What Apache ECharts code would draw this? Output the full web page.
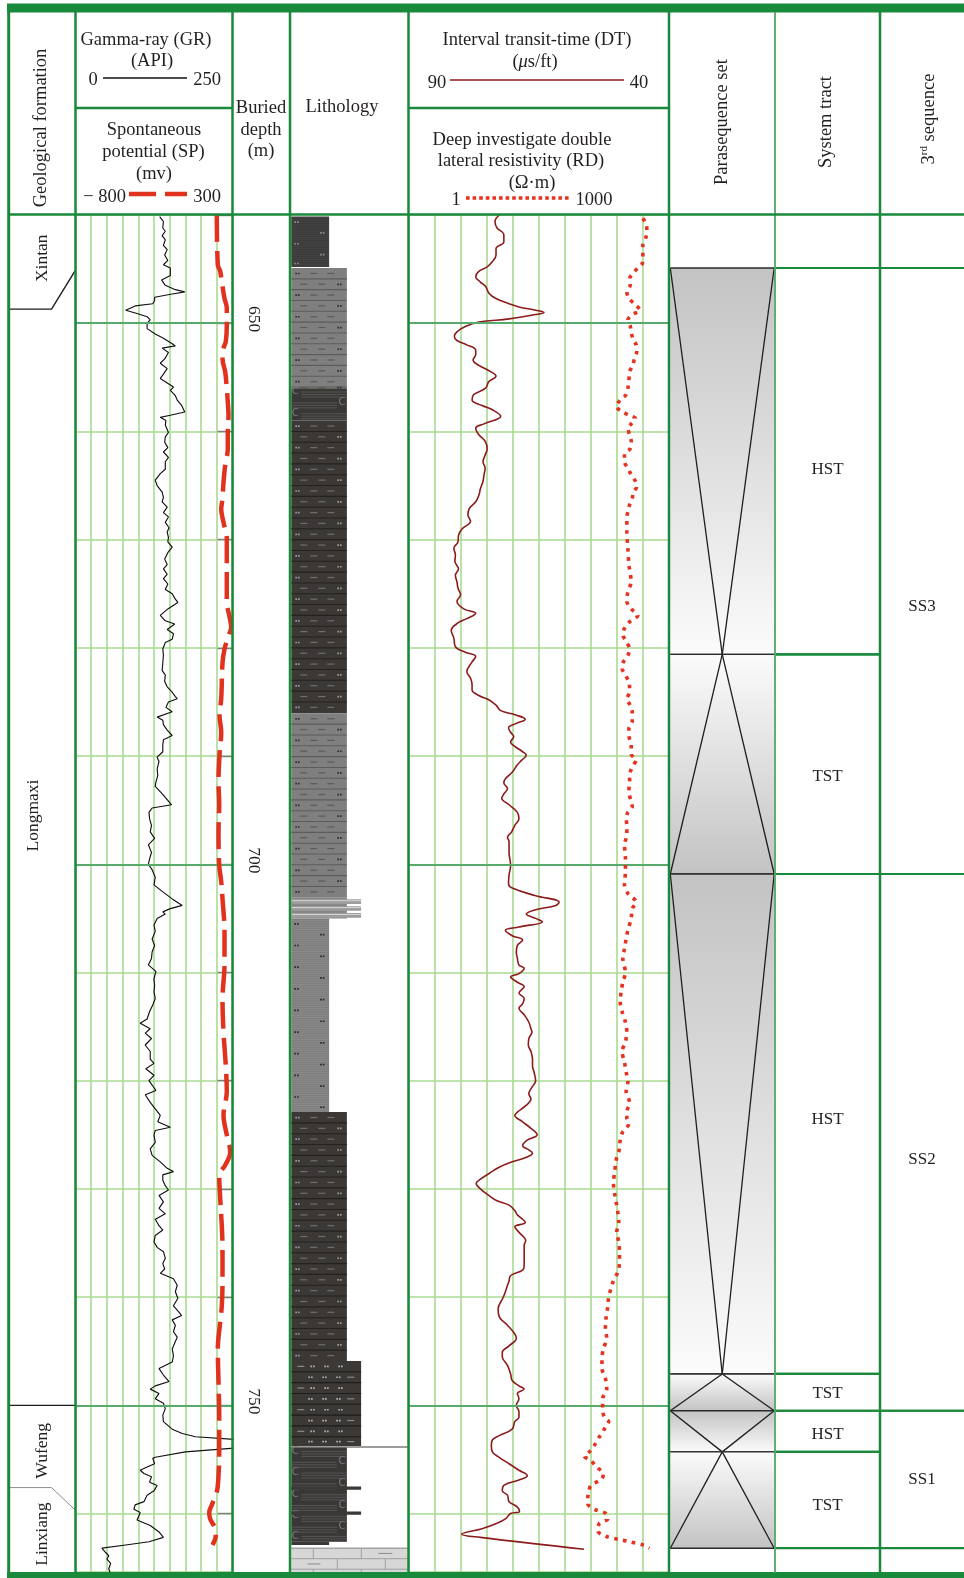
<!DOCTYPE html>
<html>
<head>
<meta charset="utf-8">
<script src="https://cdn.jsdelivr.net/npm/echarts@6/dist/echarts.min.js"></script>
<style>
html,body{margin:0;padding:0;background:#fff;}
#chart{width:964px;height:1578px;}
</style>
</head>
<body>
<div id="chart"></div>
<script>
// ---------------- well data (depth in m) ----------------
// Gamma-ray, API : [depth, value]
const grLog = [[640.15,134],[640.6,140],[641.2,139],[641.5,143],[641.9,138],[642.3,143],[642.8,140],[643.2,146],[643.7,142],[644.2,147],[644.6,140],[644.9,151],[645.6,151],[646.0,137],[646.5,143],[646.9,159],[647.1,174],[647.3,154],[647.6,126],[647.9,126],[648.2,123],[648.4,95],[648.8,80],[649.1,98],[649.4,114],[649.7,119],[650.0,114],[650.5,114],[651.0,127],[651.4,140],[651.9,154],[652.1,159],[652.3,138],[652.7,148],[653.3,142],[653.7,135],[654.2,146],[654.7,140],[655.1,135],[655.4,143],[655.9,156],[656.2,151],[656.7,159],[657.1,162],[657.6,169],[658.2,174],[658.5,151],[658.7,135],[659.0,144],[659.4,143],[660.1,148],[660.5,143],[661.0,142],[661.5,147],[661.9,140],[662.4,148],[662.8,143],[663.5,143],[663.9,135],[664.5,127],[665.0,130],[665.6,138],[666.1,140],[666.5,138],[667.0,146],[667.5,140],[667.9,148],[668.4,143],[668.9,149],[669.3,146],[669.8,148],[670.2,147],[670.7,154],[671.2,147],[671.8,142],[672.3,146],[672.7,140],[673.2,146],[673.6,140],[674.1,147],[674.6,143],[675.0,154],[675.5,159],[675.8,163],[676.4,147],[677.0,135],[677.5,143],[677.8,158],[678.3,146],[678.7,156],[679.2,154],[679.5,143],[680.1,139],[680.7,140],[681.4,139],
[682.1,138],[682.5,143],[683.1,142],[683.6,146],[684.1,154],[684.5,159],[684.7,162],[685.0,148],[685.5,144],[685.9,154],[686.4,130],[686.7,139],[687.1,140],[687.6,146],[688.1,154],[688.5,140],[689.0,139],[689.6,139],[690.1,130],[690.5,133],[691.2,130],[691.8,131],[692.4,128],[692.8,127],[693.6,140],[694.5,153],[694.8,122],[695.2,117],[695.8,118],[696.4,121],[697.0,119],[697.6,126],[698.2,116],[698.9,121],[699.5,118],[700.0,116],[700.5,122],[701.2,127],[701.9,125],[702.5,138],[703.2,154],[703.8,170],[704.1,151],[704.4,139],[704.6,143],[705.0,130],[705.6,125],[706.2,127],[706.9,122],[707.5,126],[708.1,122],[708.7,121],[709.3,116],[709.9,128],[710.6,125],[711.2,126],[711.8,125],[712.4,127],[713.0,123],[713.6,118],[714.3,114],[714.7,103],[715.2,119],[715.6,111],[716.1,121],[716.7,111],[717.3,119],[718.0,119],[718.4,125],[718.9,112],[719.5,125],[720.0,117],[720.4,122],[720.9,128],[721.3,111],[722.0,119],[722.6,127],
[723.2,135],[723.8,131],[724.3,151],[724.6,127],[725.0,125],[725.7,127],[726.3,119],[726.9,122],[727.5,135],[728.1,146],[728.4,156],[728.7,139],[729.2,139],[729.7,143],[730.1,148],[730.6,133],[731.2,140],[731.8,133],[732.3,143],[732.8,127],[733.4,133],[733.8,139],[734.3,127],[734.9,125],[735.4,130],[735.8,140],[736.4,143],[736.9,139],[737.4,142],[737.8,135],[738.3,156],[738.9,162],[739.5,159],[740.1,163],[740.8,156],[741.4,165],[741.7,169],[742.1,154],[742.6,159],[743.2,156],[743.7,162],[744.1,159],[744.8,154],[745.4,156],[746.0,154],[746.6,133],[747.2,140],[747.8,149],[748.2,127],[748.5,119],[748.9,133],[749.4,127],[749.8,140],[750.3,143],[750.9,139],[751.5,140],[752.2,154],[752.6,170],[752.9,191],[753.2,265],[753.9,265],[754.3,175],[754.8,127],[754.9,123],[755.4,126],[755.7,114],[756.0,103],[756.3,109],[756.6,121],[757.1,118],[757.4,130],[757.9,125],[758.3,114],[758.9,109],[759.2,95],[759.6,93],[759.9,103],[760.2,101],[760.6,98],[761.1,119],[761.7,133],[762.2,140],[762.6,117],[762.9,80],[763.2,42],[763.6,48],[763.9,53],[764.2,50],[764.6,56],[765.1,53],[765.6,56]];

// Spontaneous potential, mV : [depth, value]
const spLog = [[640.0,190],[644.6,197],[645.2,214],[646.2,225],[647.7,244],[648.6,260],[650.2,260],[651.7,253],[652.3,237],[653.3,230],[654.5,249],[656.0,260],[657.3,267],[658.5,272],[660.1,267],[661.6,267],[663.1,249],[664.7,237],[666.2,230],[667.2,221],[668.4,237],[669.9,260],[671.5,260],[674.0,260],[675.8,260],[677.0,277],[678.1,291],[678.9,272],[680.1,244],[681.4,230],[684.7,221],[686.2,209],[687.8,221],[689.9,209],[692.4,202],[694.5,207],[697.0,202],[700.1,207],[701.6,221],[703.2,230],[706.2,244],[709.3,244],[712.4,230],[715.5,237],[718.6,253],[721.0,260],[723.2,237],[725.0,260],[726.6,284],[727.8,249],[728.7,207],[730.9,214],[733.4,225],[735.5,230],[738.6,230],[740.8,225],[742.3,214],[744.8,197],[747.8,202],[750.9,207],[754.0,207],[756.5,202],[758.0,190],[759.2,155],[759.9,137],[760.5,144],[761.4,179],[762.0,183],[762.9,160]];

// Interval transit-time, us/ft : [depth, value]
const dtLog = [[640.0,72.6],[640.6,73.4],[641.2,73.0],[641.8,71.7],[642.5,71.7],[643.1,73.2],[643.7,73.2],[644.3,73.9],[644.8,74.9],[645.2,76.5],[645.7,77.1],[646.2,76.2],[646.6,75.2],[647.2,74.6],[647.7,73.3],[648.2,70.7],[648.5,68.8],[648.8,65.6],[649.0,64.0],[649.2,65.6],[649.6,70.7],[649.9,76.5],[650.3,79.1],[650.8,80.7],[651.2,81.2],[651.6,80.7],[652.0,78.8],[652.5,77.1],[652.9,77.1],[653.4,77.6],[653.9,76.5],[654.3,74.9],[654.9,73.2],[655.4,74.6],[656.0,75.2],[656.6,77.5],[657.1,77.8],[657.6,75.9],[658.0,73.9],[658.6,72.3],[659.3,75.5],[659.7,77.1],[660.3,76.5],[660.9,75.3],[661.6,74.9],[662.2,75.3],[662.8,75.7],[663.4,75.3],[664.0,75.5],[664.6,75.7],[665.3,76.2],[665.9,76.5],[666.5,77.1],[667.1,78.3],[667.7,78.6],[668.3,78.1],[669.0,79.7],[669.6,80.4],[670.2,80.5],[670.8,81.3],[671.4,81.0],[672.0,81.1],[672.7,80.4],[673.3,81.0],[673.9,80.7],[674.5,80.5],[675.1,80.0],[675.7,80.7],[676.4,79.4],[676.8,77.1],[677.3,78.8],[677.7,80.5],[678.4,81.8],[679.1,81.3],[679.9,81.0],[680.4,79.1],[680.8,77.1],[681.3,77.8],
[682.2,78.8],[682.8,78.1],[683.4,77.8],[683.9,77.8],[684.4,76.5],[684.8,74.6],[685.3,73.2],[685.8,72.3],[686.2,69.4],[686.6,67.6],[687.0,69.4],[687.4,70.8],[687.8,70.4],[688.2,69.8],[688.7,70.4],[689.1,69.6],[689.6,68.1],[689.9,67.4],[690.4,68.3],[690.8,69.1],[691.5,70.1],[692.1,71.4],[692.5,71.7],[693.0,71.0],[693.5,71.7],[693.9,72.1],[694.5,70.7],[695.2,69.1],[695.8,68.8],[696.4,69.6],[697.0,70.2],[697.5,71.0],[697.9,70.7],[698.9,70.7],[700.1,70.4],[701.0,70.7],[701.8,70.8],[702.2,70.1],[702.9,65.6],[703.5,61.1],[703.8,61.7],[704.2,65.6],[704.6,67.4],[705.0,65.6],[705.3,64.3],[705.8,68.8],[706.1,71.4],[706.6,70.1],[707.0,68.1],[707.5,69.1],[708.1,69.3],[708.7,69.1],[709.3,68.8],[709.6,67.8],[710.1,68.8],[710.4,70.4],[710.9,69.1],[711.3,67.8],[711.9,68.8],[712.4,67.8],[712.9,68.1],[713.3,68.8],[713.9,67.8],[714.6,66.9],[715.2,66.5],[715.5,66.3],[716.1,66.9],[716.7,67.0],[717.3,66.5],[718.0,66.2],[718.6,66.2],[719.2,65.9],[720.0,65.6],[720.6,66.3],[721.2,66.9],[721.7,66.5],[722.3,67.5],[722.9,69.1],
[723.2,69.6],[723.8,68.1],[724.4,66.5],[725.0,65.3],[725.5,67.2],[726.0,68.1],[726.4,66.9],[726.7,66.2],[727.1,67.5],[727.5,70.1],[728.0,72.6],[728.6,74.6],[729.1,76.2],[729.5,77.0],[730.0,76.2],[730.6,74.6],[731.1,73.0],[731.5,70.7],[732.0,69.6],[732.4,69.1],[733.1,67.6],[733.5,69.6],[734.0,68.8],[734.8,67.5],[735.2,67.8],[736.1,67.8],[737.1,67.8],[737.5,68.1],[738.0,70.4],[738.5,70.7],[738.9,71.0],[739.5,71.4],[740.1,71.9],[741.1,72.8],[741.8,72.6],[742.6,71.0],[743.4,69.6],[743.8,69.3],[744.5,70.7],[745.1,72.0],[745.5,72.0],[746.3,71.0],[747.1,70.4],[747.7,70.1],[748.2,68.8],[748.5,67.8],[748.9,69.1],[749.4,68.8],[750.0,69.3],[750.6,68.8],[751.1,68.8],[751.5,69.6],[752.2,70.1],[752.8,72.6],[753.2,73.9],[753.7,74.1],[754.3,73.9],[754.8,72.6],[755.4,70.7],[756.0,68.8],[756.5,67.2],[756.9,68.8],[757.4,71.7],[757.9,72.0],[758.3,71.0],[758.9,70.7],[759.4,69.1],[759.8,68.7],[760.0,70.4],[760.5,71.4],[760.9,73.0],[761.4,75.9],[761.9,79.8],[762.2,76.2],[763.3,56.3]];

// Deep lateral resistivity, ohm.m : [depth, value]
const rdLog = [[640.3,500],[640.9,547],[641.5,556],[642.2,537],[642.8,500],[643.4,500],[644.0,500],[644.5,491],[644.9,438],[645.4,383],[645.9,351],[646.5,357],[647.1,327],[647.7,345],[648.3,411],[648.8,466],[649.2,377],[649.7,336],[650.2,357],[650.8,367],[651.4,383],[652.0,419],[652.6,426],[653.2,401],[653.9,383],[654.5,351],[655.4,345],[656.0,336],[656.6,321],[657.1,274],[657.7,246],[658.2,294],[658.5,345],[658.8,411],[659.3,367],[659.7,336],[660.3,351],[660.9,367],[661.6,357],[662.1,307],[662.8,307],[663.4,336],[664.0,367],[664.6,411],[665.1,426],[665.6,390],[666.2,377],[666.8,351],[667.4,336],[668.0,327],[669.3,327],[670.8,336],[672.3,345],[673.9,367],[674.8,336],[675.7,327],[676.4,367],[677.0,438],[677.6,351],[678.2,307],[678.8,294],[679.4,321],[680.1,351],[680.7,336],[681.4,294],
[681.9,288],[682.5,315],[683.4,351],[684.1,351],[684.7,327],[685.3,357],[685.9,377],[686.8,377],[687.5,345],[688.1,345],[689.0,367],[689.8,367],[690.4,419],[690.8,390],[691.5,357],[692.4,351],[693.3,345],[694.2,367],[694.7,377],[695.2,336],[695.8,321],[696.4,327],[697.3,327],[698.2,307],[699.5,315],[700.7,315],[701.9,307],[702.7,336],[703.5,419],[704.1,377],[705.0,367],[706.1,336],[706.9,321],[707.8,307],[708.7,294],[710.0,315],[710.9,294],[711.8,281],[712.7,274],[713.6,288],[714.6,315],[715.5,327],[716.4,315],[717.3,288],[718.3,307],[719.2,321],[720.1,336],[721.0,321],[722.0,351],[722.9,327],
[723.5,327],[724.0,345],[724.7,294],[725.5,274],[726.3,269],[727.1,250],[727.8,242],[728.6,235],[729.4,229],[730.3,235],[731.2,246],[732.1,257],[733.1,264],[734.0,250],[734.9,264],[735.8,269],[736.8,269],[737.7,257],[738.5,229],[739.2,215],[740.0,202],[740.9,197],[742.0,188],[742.9,185],[743.8,192],[744.8,175],[745.7,169],[746.6,169],[747.5,185],[748.5,192],[749.4,172],[750.3,172],[751.1,180],[751.5,202],[752.2,180],[752.9,158],[753.7,138],[754.3,121],[754.7,106],[755.1,126],[755.7,147],[756.3,175],[756.8,169],[757.4,126],[758.0,119],[758.6,116],[759.1,116],[759.6,138],[760.0,188],[760.5,197],[760.9,158],[761.6,151],[762.1,188],[762.4,269],[762.6,351],[762.9,500],[763.2,597]];

// Depth scale
const depthMajor = [650, 700, 750];

// Lithology column: top, base, grain-size class (0-10), rock type
const lithTop   = [640.15, 644.9, 656.0, 659.0, 686.05, 703.1, 705.0, 722.9, 745.9, 753.85, 753.9, 757.5, 759.8, 762.6, 763.2];
const lithBase  = [644.8, 656.0, 659.0, 686.05, 703.1, 705.0, 722.9, 745.9, 753.8, 753.85, 762.6, 757.8, 760.1, 762.9, 765.4];
const lithGrain = [3.3, 4.8, 4.8, 4.8, 4.8, 6.0, 3.3, 4.8, 6.0, 10, 4.8, 6.0, 6.0, 3.3, 10];
const lithKind  = ['lamDark', 'siltMudGray', 'carbShale', 'siltMudDark', 'siltMudGray', 'interbed', 'lamGray', 'siltMudDark', 'siltDark', 'contact', 'carbShale', 'band', 'band', 'band', 'limestone'];

// Geological formations
const fmName = ['Xintan', 'Longmaxi', 'Wufeng', 'Linxiang'];
const fmLabelDepth = [644.0, 695.5, 754.2, 761.9];
const fmBoundLeft  = [648.7, 750.0, 757.6];
const fmBoundRight = [645.1, 750.0, 759.7];

// System tracts (also parasequence sets)
const sysTop  = [644.9, 680.6, 700.9, 747.1, 750.5, 754.3];
const sysBase = [680.6, 700.9, 747.1, 750.5, 754.3, 763.2];
const sysName = ['HST', 'TST', 'HST', 'TST', 'HST', 'TST'];
const sysLabelDepth = [663.5, 691.9, 723.6, 748.9, 752.7, 759.3];

// 3rd-order sequences
const seqTop  = [644.9, 700.9, 750.5];
const seqBase = [700.9, 750.5, 763.2];
const seqName = ['SS3', 'SS2', 'SS1'];
const seqLabelDepth = [676.2, 727.3, 756.9];

// ---------------- layout / styling ----------------
const FONT = '"Liberation Serif", "DejaVu Serif", serif';
const HFS = 18.5;   // header font size
const INK = '#231f20';
const GREEN = '#19893b';
const GRID_LIGHT = '#a9db92';
const GRID_MAJOR = '#57a96c';
const D_MIN = 640, D_MAX = 765.4;
const COLS = [[9,75.5],[75.5,232.5],[232.5,290],[290,408.5],[408.5,669],[669,775],[775,880],[880,964]];

const hidden = {axisLine:{show:false}, axisTick:{show:false}, axisLabel:{show:false}, splitLine:{show:false}};
const yAx = (gi, extra) => Object.assign({type:'value', gridIndex:gi, inverse:true, min:D_MIN, max:D_MAX, interval:10}, hidden, extra || {});
const xAx = (gi, extra) => Object.assign({type:'value', gridIndex:gi, min:0, max:1}, hidden, extra || {});
const lightSplit = {show:true, lineStyle:{color:GRID_LIGHT, width:1.6}};

// drawing helpers
const R = (x, y, w, h, fill) => ({type:'rect', shape:{x, y, width:w, height:h}, style:{fill}});
const L = (x1, y1, x2, y2, stroke, lw) => ({type:'line', shape:{x1, y1, x2, y2}, style:{stroke, lineWidth:lw || 1}});
const dots = (x, y, fill) => [R(x, y - 0.8, 1.7, 1.7, fill), R(x + 2.7, y - 0.8, 1.7, 1.7, fill)];

function lithItem(params, api) {
  const i = params.dataIndex;
  const kind = lithKind[i];
  const a = api.coord([0, lithTop[i]]);
  const b = api.coord([lithGrain[i], lithBase[i]]);
  const x0 = a[0] + 1.3, x1 = b[0], y0 = a[1], y1 = b[1];
  const w = x1 - x0, h = y1 - y0;
  const m = Math.abs(api.size([0, 1])[1]);
  const ch = [];
  const rows = fn => { let r = 0; for (let y = y0; y < y1 - 1; y += m, r++) fn(r, y, Math.min(y + m, y1)); };

  if (kind === 'contact') {
    ch.push(L(x0, y0, x1, y0, '#9d9d9d', 2));
  } else if (kind === 'siltMudGray' || kind === 'siltMudDark') {
    const c = kind === 'siltMudDark'
      ? {fill:'#3b3835', sep:'#24211f', dash:'#6f6f6f', dot:'#9a9a9a'}
      : {fill:'#7f7f7f', sep:'#5c5c5c', dash:'#5a5a5a', dot:'#2e2e2e'};
    ch.push(R(x0, y0, w, h, c.fill));
    rows((r, ya, yb) => {
      const ym = (ya + yb) / 2;
      if (yb < y1 - 1) ch.push(L(x0, yb, x1, yb, c.sep, 1.1));
      if (r % 2 === 0) {
        ch.push(...dots(x0 + 4, ym, c.dot), L(x0 + 19, ym, x0 + 26, ym, c.dash, 1.2), L(x0 + 36, ym, x0 + 43, ym, c.dash, 1.2));
      } else {
        ch.push(L(x0 + 9, ym, x0 + 16, ym, c.dash, 1.2), L(x0 + 27, ym, x0 + 34, ym, c.dash, 1.2), ...dots(x0 + 46, ym, c.dot));
      }
    });
  } else if (kind === 'carbShale') {
    ch.push(R(x0, y0, w, h, '#3a3836'));
    rows((r, ya, yb) => {
      const ym = (ya + yb) / 2;
      const left = r % 2 === 0;
      ch.push({type:'text', x: left ? x0 + 4 : x1 - 5, y: ym - 2,
        style:{text:'C', font:'10px "DejaVu Sans"', fill:'#7a7a7a', align:'center', verticalAlign:'middle'}});
      const lx0 = left ? x0 + 10 : x0, lx1 = left ? x1 : x1 - 10;
      [-1.5, 1, 3.5].forEach(d => ch.push(L(lx0, ym + d, lx1, ym + d, '#5e5c5a', 0.8)));
    });
  } else if (kind === 'lamDark' || kind === 'lamGray') {
    const dark = kind === 'lamDark';
    ch.push(R(x0, y0, w, h, dark ? '#3b3b3b' : '#8a8a8a'));
    for (let y = y0 + 1.2; y < y1; y += 2.2) ch.push(L(x0, y, x1, y, dark ? '#4b4b4b' : '#747474', 0.6));
    rows((r, ya, yb) => ch.push(...dots(r % 2 === 0 ? x0 + 3 : x1 - 9, (ya + yb) / 2, dark ? '#8a8a8a' : '#2a2a2a')));
  } else if (kind === 'interbed') {
    const xs = api.coord([4.8, 0])[0];
    ch.push(R(x0, y0, xs - x0, h, '#878787'));
    for (let k = 0; k < 3; k++) {
      const yy = y0 + 1.5 + k * h / 3;
      ch.push(R(x0, yy, w, h / 3 - 2.2, '#9d9d9d'));
      ch.push(L(x0, yy + 1.4, x1, yy + 1.4, '#dedede', 0.9));
    }
  } else if (kind === 'siltDark') {
    ch.push(R(x0, y0, w, h, '#3b3835'));
    rows((r, ya, yb) => {
      const ym = (ya + yb) / 2;
      if (yb < y1 - 1) ch.push(L(x0, yb, x1, yb, '#1f1d1b', 1.1));
      if (r % 2 === 0) {
        ch.push(L(x0 + 6, ym, x0 + 13, ym, '#8a8a8a', 1.2), ...dots(x0 + 19, ym, '#b0b0b0'), ...dots(x0 + 33, ym, '#b0b0b0'), ...dots(x0 + 47, ym, '#b0b0b0'));
      } else {
        ch.push(...dots(x0 + 17, ym, '#b0b0b0'), ...dots(x0 + 31, ym, '#b0b0b0'), ...dots(x0 + 45, ym, '#b0b0b0'), L(x0 + 56, ym, x0 + 63, ym, '#8a8a8a', 1.2));
      }
    });
  } else if (kind === 'band') {
    ch.push(R(x0, y0, w, h, '#3b3835'));
  } else if (kind === 'limestone') {
    ch.push(R(x0, y0, w, h, '#d7d7d7'));
    ch.push(L(x0, y0, x1, y0, '#a4a4a4', 1.5));
    const bh = 10.5;
    let r = 0;
    for (let y = y0; y < y1 - 0.5; y += bh, r++) {
      const yb = Math.min(y + bh, y1);
      if (y > y0) ch.push(L(x0, y, x1, y, '#a0a0a0', 1));
      for (let x = x0 + (r % 2 === 0 ? 22 : 46); x < x1; x += 48) ch.push(L(x, y, x, yb, '#a0a0a0', 1));
      const ym = (y + yb) / 2;
      if (yb - y > 6) ch.push(r % 2 === 0 ? L(x0 + 87, ym, x0 + 101, ym, '#8c8c8c', 1) : L(x0 + 16, ym, x0 + 29, ym, '#8c8c8c', 1));
    }
  }
  return {type:'group', children:ch};
}

function paraItem(params, api) {
  const i = params.dataIndex;
  const a = api.coord([0, sysTop[i]]), b = api.coord([1, sysBase[i]]);
  const x0 = a[0] + 1.3, x1 = b[0] - 0.8, y0 = a[1], y1 = b[1], xm = (x0 + x1) / 2;
  const hst = sysName[i] === 'HST';
  const light = '#fbfbfb', grey = '#c3c3c3';
  const fill = {type:'linear', x:0, y:0, x2:0, y2:1, colorStops: hst
    ? [{offset:0, color:grey}, {offset:1, color:light}]
    : [{offset:0, color:light}, {offset:1, color:grey}]};
  const ch = [R(x0, y0, x1 - x0, y1 - y0, fill)];
  if (hst) ch.push(L(x0, y0, xm, y1, '#1e1e1e', 1.3), L(x1, y0, xm, y1, '#1e1e1e', 1.3));
  else ch.push(L(xm, y0, x0, y1, '#1e1e1e', 1.3), L(xm, y0, x1, y1, '#1e1e1e', 1.3));
  ch.push(L(x0, y0, x1, y0, '#2a2a2a', 1.4), L(x0, y1, x1, y1, '#2a2a2a', 1.4));
  return {type:'group', children:ch};
}

function bandItem(tops, bases, names, labelDepths) {
  return (params, api) => {
    const i = params.dataIndex;
    const a = api.coord([0, tops[i]]), b = api.coord([1, bases[i]]);
    const ly = api.coord([0, labelDepths[i]])[1];
    return {type:'group', children:[
      L(a[0], a[1], b[0], a[1], GREEN, 2.2),
      L(a[0], b[1], b[0], b[1], GREEN, 2.2),
      {type:'text', x:(a[0] + b[0]) / 2, y:ly, style:{text:names[i], font:'17px ' + FONT, fill:INK, align:'center', verticalAlign:'middle'}}
    ]};
  };
}

function fmBoundItem(params, api) {
  const i = params.dataIndex;
  const p0 = api.coord([0, fmBoundLeft[i]]);
  const pk = api.coord([0.64, fmBoundLeft[i]]);
  const p1 = api.coord([1, fmBoundRight[i]]);
  return {type:'polyline', shape:{points:[p0, pk, p1]},
    style:{stroke: i === 2 ? '#8c8c8c' : '#1b1b1b', lineWidth: i === 2 ? 1 : 1.4, fill:null}};
}

function fmLabelItem(params, api) {
  const i = params.dataIndex;
  const c = api.coord([api.value(0), fmLabelDepth[i]]);
  return {type:'text', x:c[0], y:c[1], rotation:Math.PI / 2,
    style:{text:fmName[i], font:'17.5px ' + FONT, fill:INK, align:'center', verticalAlign:'middle'}};
}

function depthLabelItem(params, api) {
  const c = api.coord([api.value(0), api.value(1)]);
  return {type:'text', x:c[0], y:c[1] - 4, rotation:-Math.PI / 2,
    style:{text:String(api.value(1)), font:'17.5px ' + FONT, fill:INK, align:'center', verticalAlign:'middle'}};
}

const majorMark = {
  silent:true, symbol:['none','none'], label:{show:false}, animation:false,
  lineStyle:{color:GRID_MAJOR, width:2, type:'solid'},
  data: depthMajor.map(d => ({yAxis:d}))
};

// ---------------- header & table frame ----------------
const T = (text, x, y, opt) => {
  opt = opt || {};
  return {type:'text', x, y, rotation:opt.rot || 0, z:100, silent:true,
    style:Object.assign({text, font:(opt.size || HFS) + 'px ' + FONT, fill:INK, align:opt.align || 'center', verticalAlign:'middle'}, opt.rich ? {rich:opt.rich} : {})};
};
const GL = (x1, y1, x2, y2, color, w, dash) => ({type:'line', z:100, silent:true,
  shape:{x1, y1, x2, y2}, style:{stroke:color, lineWidth:w, lineDash:dash || null}});

const headerGraphics = [
  {type:'rect', z:100, silent:true, shape:{x:7, y:3.5, width:957, height:9}, style:{fill:GREEN}},
  {type:'rect', z:100, silent:true, shape:{x:7, y:1572, width:957, height:6}, style:{fill:GREEN}},
  GL(8.7, 12, 8.7, 1573, GREEN, 3),
  GL(75.5, 12, 75.5, 1573, GREEN, 2.5),
  GL(232.5, 12, 232.5, 1573, GREEN, 2.5),
  GL(290, 12, 290, 1573, GREEN, 2.5),
  GL(408.5, 12, 408.5, 1573, GREEN, 2.5),
  GL(669, 12, 669, 1573, GREEN, 2.5),
  GL(775, 12, 775, 1573, '#4fa867', 1.8),
  GL(880, 12, 880, 1573, GREEN, 2.5),
  GL(8, 214.5, 964, 214.5, GREEN, 2.5),
  GL(75.5, 108, 232.5, 108, GREEN, 2.5),
  GL(408.5, 108, 669, 108, GREEN, 2.5),

  T('Geological formation', 41, 128, {rot:Math.PI / 2}),
  T('Gamma-ray (GR)', 146, 40),
  T('(API)', 152, 61),
  T('0', 93, 80),
  GL(103, 78, 187, 78, '#111', 1.6),
  T('250', 207, 80),
  T('Spontaneous', 154, 130),
  T('potential (SP)', 153.5, 152),
  T('(mv)', 154, 174),
  T('\u2212 800', 126, 197, {align:'right'}),
  GL(129, 194, 187, 194, '#e0321c', 4.5, [27, 9]),
  T('300', 207, 197),
  T('Buried', 261, 108),
  T('depth', 261, 130),
  T('(m)', 261, 151),
  T('Lithology', 342, 107),
  T('Interval transit-time (DT)', 537, 40),
  T('({i|\u03bc}s/ft)', 535, 62, {rich:{i:{fontStyle:'italic', font:'italic ' + HFS + 'px ' + FONT}}}),
  T('90', 437, 83),
  GL(450, 80, 624, 80, '#8c1c1c', 1.6),
  T('40', 639, 83),
  T('Deep investigate double', 522, 140),
  T('lateral resistivity (RD)', 521, 161),
  T('(\u03a9\u00b7m)', 532, 183),
  T('1', 456, 200),
  GL(466, 198, 570, 198, '#e5331f', 3.6, [3.6, 3]),
  T('1000', 594, 200),
  T('Parasequence set', 722, 122, {rot:Math.PI / 2}),
  T('System tract', 826, 122, {rot:Math.PI / 2}),
  T('{n|3}{s|rd}{n| sequence}', 929, 119, {rot:Math.PI / 2,
    rich:{n:{font:HFS + 'px ' + FONT, lineHeight:20, fill:INK}, s:{font:'11px ' + FONT, lineHeight:12, verticalAlign:'top', fill:INK}}})
];

// ---------------- chart ----------------
const chart = echarts.init(document.getElementById('chart'), null, {renderer:'canvas'});
chart.setOption({
  animation:false,
  backgroundColor:'#ffffff',
  grid: COLS.map(c => ({left:c[0], width:c[1] - c[0], top:215, bottom:6, outerBoundsMode:'none'})),
  xAxis: [
    xAx(0),
    xAx(1, {min:0, max:250, interval:25, splitLine:lightSplit}),
    xAx(1, {min:-800, max:300}),
    xAx(2),
    xAx(3, {min:0, max:10}),
    xAx(4, {min:40, max:90, interval:5, inverse:true, splitLine:lightSplit}),
    xAx(4, {type:'log', logBase:10, min:1, max:1000}),
    xAx(5), xAx(6), xAx(7)
  ],
  yAxis: [
    yAx(0),
    yAx(1, {splitLine:lightSplit}),
    yAx(2, {position:'right', axisTick:{show:true, inside:true, length:15, lineStyle:{color:'#7d7d7d', width:1.4}}}),
    yAx(3),
    yAx(4, {splitLine:lightSplit}),
    yAx(5), yAx(6), yAx(7)
  ],
  series: [
    {type:'custom', name:'Formation boundary', xAxisIndex:0, yAxisIndex:0, data:fmBoundLeft.map((d, i) => [0, d, fmBoundRight[i]]), renderItem:fmBoundItem, silent:true},
    {type:'custom', name:'Formation', xAxisIndex:0, yAxisIndex:0, data:fmLabelDepth.map((d, i) => [i === 1 ? 0.36 : 0.5, d]), renderItem:fmLabelItem, silent:true},
    {type:'line', name:'GR', xAxisIndex:1, yAxisIndex:1, data:grLog.map(p => [p[1], p[0]]), symbol:'none', clip:true, silent:true,
      lineStyle:{color:'#111111', width:1.15}, z:4, markLine:majorMark},
    {type:'line', name:'SP', xAxisIndex:2, yAxisIndex:1, data:spLog.map(p => [p[1], p[0]]), symbol:'none', clip:true, silent:true, smooth:0.35,
      lineStyle:{color:'#e0321c', width:4.5, type:[27, 9]}, z:5},
    {type:'custom', name:'Depth', xAxisIndex:3, yAxisIndex:2, data:depthMajor.map(d => [0.36, d]), renderItem:depthLabelItem, silent:true},
    {type:'custom', name:'Lithology', xAxisIndex:4, yAxisIndex:3, data:lithTop.map((t, i) => [lithGrain[i], t, lithBase[i]]),
      encode:{x:0, y:[1, 2]}, renderItem:lithItem, silent:true},
    {type:'line', name:'DT', xAxisIndex:5, yAxisIndex:4, data:dtLog.map(p => [p[1], p[0]]), symbol:'none', clip:true, silent:true, smooth:0.4,
      lineStyle:{color:'#8c1c1c', width:1.6}, z:4, markLine:majorMark},
    {type:'line', name:'RD', xAxisIndex:6, yAxisIndex:4, data:rdLog.map(p => [p[1], p[0]]), symbol:'none', clip:true, silent:true, smooth:0.3,
      lineStyle:{color:'#e5331f', width:3.6, type:[3.6, 5.4]}, z:5},
    {type:'custom', name:'Parasequence set', xAxisIndex:7, yAxisIndex:5, data:sysTop.map((t, i) => [0, t, sysBase[i]]),
      encode:{x:0, y:[1, 2]}, renderItem:paraItem, silent:true},
    {type:'custom', name:'System tract', xAxisIndex:8, yAxisIndex:6, data:sysTop.map((t, i) => [0, t, sysBase[i]]),
      encode:{x:0, y:[1, 2]}, renderItem:bandItem(sysTop, sysBase, sysName, sysLabelDepth), silent:true},
    {type:'custom', name:'3rd sequence', xAxisIndex:9, yAxisIndex:7, data:seqTop.map((t, i) => [0, t, seqBase[i]]),
      encode:{x:0, y:[1, 2]}, renderItem:bandItem(seqTop, seqBase, seqName, seqLabelDepth), silent:true}
  ],
  graphic: headerGraphics
});
</script>
</body>
</html>
